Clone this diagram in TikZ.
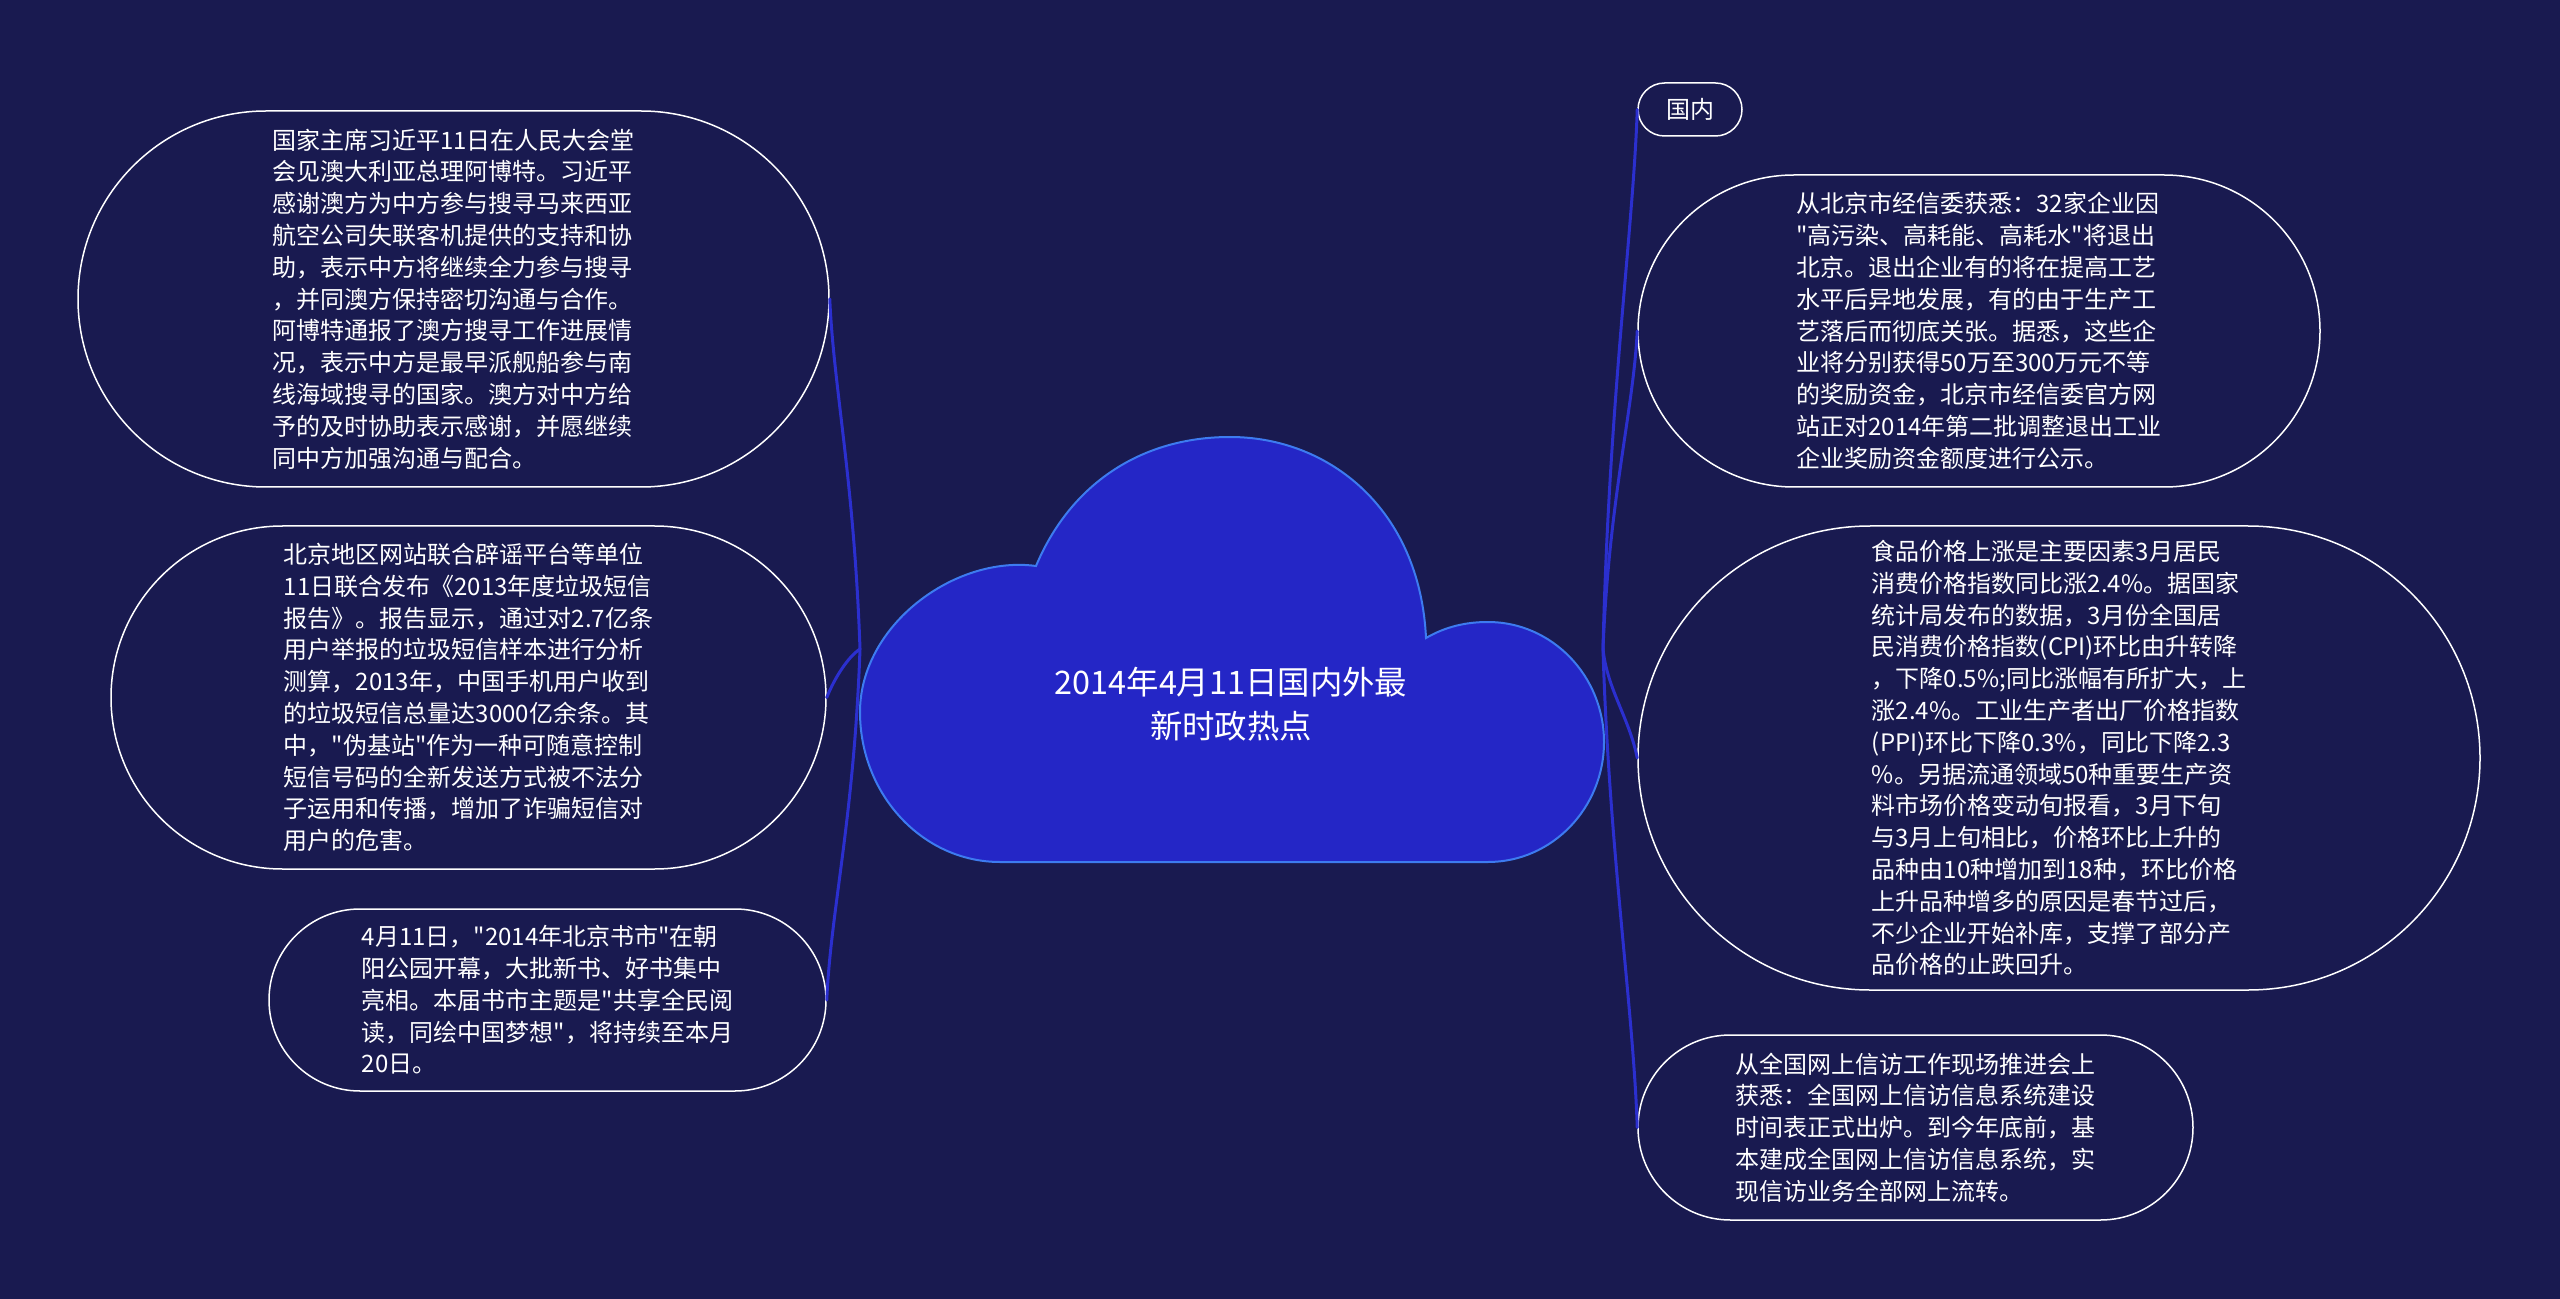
\documentclass[tikz,border=0pt]{standalone}
\usepackage{fontspec}
\setmainfont{Noto Sans CJK SC}[Ligatures=TeXOff]
\usepackage{tikz}
\usetikzlibrary{shapes.misc,positioning}
\definecolor{bgnavy}{HTML}{191A50}
\definecolor{cloudblue}{HTML}{2426C6}
\definecolor{cloudedge}{HTML}{3D7BF0}
\definecolor{branchblue}{HTML}{2B2FCF}

\begin{document}
\begin{tikzpicture}[x=0.5pt,y=-0.5pt,line cap=round,
  every node/.style={font=\fontsize{12pt}{15.9pt}\selectfont,text=white},
  news/.style={rounded rectangle,draw=white,line width=0.75pt,align=left,inner sep=0pt},
  branch/.style={branchblue,line width=1.5pt}]
  \fill[bgnavy] (0,0) rectangle (2560,1299);
  \useasboundingbox (0,0) rectangle (2560,1299);

  % central cloud
  \filldraw[fill=cloudblue,draw=cloudedge,line width=1pt]
    (1000,862) .. controls (923,862) and (860,795) .. (860,712)
    .. controls (860,625) and (955,555) .. (1036,566)
    .. controls (1070,485) and (1140,437) .. (1230,437)
    .. controls (1330,437) and (1420,510) .. (1426,638)
    .. controls (1445,627) and (1465,622) .. (1488,622)
    .. controls (1552,622) and (1604,676) .. (1604,742)
    .. controls (1604,808) and (1552,862) .. (1488,862)
    -- cycle;
  \node[font=\fontsize{16.2pt}{22pt}\selectfont,align=center] (topic) at (1231,704)
    {2014年4月11日国内外最\\新时政热点};
  \coordinate (hubL) at (860,649);
  \coordinate (hubR) at (1603,649);

  % left branch
  \node[news,minimum width=375.5pt,minimum height=188pt] (xi) at (453.5,299)
    {国家主席习近平11日在人民大会堂\\会见澳大利亚总理阿博特。习近平\\感谢澳方为中方参与搜寻马来西亚\\航空公司失联客机提供的支持和协\\助，表示中方将继续全力参与搜寻\\，并同澳方保持密切沟通与合作。\\阿博特通报了澳方搜寻工作进展情\\况，表示中方是最早派舰船参与南\\线海域搜寻的国家。澳方对中方给\\予的及时协助表示感谢，并愿继续\\同中方加强沟通与配合。};
  \node[news,minimum width=357.5pt,minimum height=171.5pt] (spam) at (468.5,697.5)
    {北京地区网站联合辟谣平台等单位\\11日联合发布《2013年度垃圾短信\\报告》。报告显示，通过对2.7亿条\\用户举报的垃圾短信样本进行分析\\测算，2013年，中国手机用户收到\\的垃圾短信总量达3000亿余条。其\\中，"伪基站"作为一种可随意控制\\短信号码的全新发送方式被不法分\\子运用和传播，增加了诈骗短信对\\用户的危害。};
  \node[news,minimum width=278.5pt,minimum height=91pt] (fair) at (547.5,1000)
    {4月11日，"2014年北京书市"在朝\\阳公园开幕，大批新书、好书集中\\亮相。本届书市主题是"共享全民阅\\读，同绘中国梦想"，将持续至本月\\20日。};
  \draw[branch] (hubL) .. controls +(-6,-170) and +(4,90) .. (xi.east);
  \draw[branch] (hubL) .. controls +(-12,8) and +(8,-20) .. (spam.east);
  \draw[branch] (hubL) .. controls +(-6,170) and +(4,-90) .. (fair.east);

  % right branch
  \node[news,minimum width=52pt,minimum height=26.5pt,align=center] (home) at (1690,109.5) {国内};
  \node[news,minimum width=341pt,minimum height=156pt] (firms) at (1979,331)
    {从北京市经信委获悉：32家企业因\\"高污染、高耗能、高耗水"将退出\\北京。退出企业有的将在提高工艺\\水平后异地发展，有的由于生产工\\艺落后而彻底关张。据悉，这些企\\业将分别获得50万至300万元不等\\的奖励资金，北京市经信委官方网\\站正对2014年第二批调整退出工业\\企业奖励资金额度进行公示。};
  \node[news,minimum width=421pt,minimum height=232pt] (cpi) at (2059,758)
    {食品价格上涨是主要因素3月居民\\消费价格指数同比涨2.4\%。据国家\\统计局发布的数据，3月份全国居\\民消费价格指数(CPI)环比由升转降\\，下降0.5\%;同比涨幅有所扩大，上\\涨2.4\%。工业生产者出厂价格指数\\(PPI)环比下降0.3\%，同比下降2.3\\\%。另据流通领域50种重要生产资\\料市场价格变动旬报看，3月下旬\\与3月上旬相比，价格环比上升的\\品种由10种增加到18种，环比价格\\上升品种增多的原因是春节过后，\\不少企业开始补库，支撑了部分产\\品价格的止跌回升。};
  \node[news,minimum width=277.5pt,minimum height=92.5pt] (petition) at (1915.5,1127.5)
    {从全国网上信访工作现场推进会上\\获悉：全国网上信访信息系统建设\\时间表正式出炉。到今年底前，基\\本建成全国网上信访信息系统，实\\现信访业务全部网上流转。};
  \draw[branch] (hubR) .. controls +(6,-250) and +(-4,120) .. (home.west);
  \draw[branch] (hubR) .. controls +(6,-150) and +(-4,80) .. (firms.west);
  \draw[branch] (hubR) .. controls +(4,40) and +(-8,-40) .. (cpi.west);
  \draw[branch] (hubR) .. controls +(6,200) and +(-4,-120) .. (petition.west);
\end{tikzpicture}
\end{document}
